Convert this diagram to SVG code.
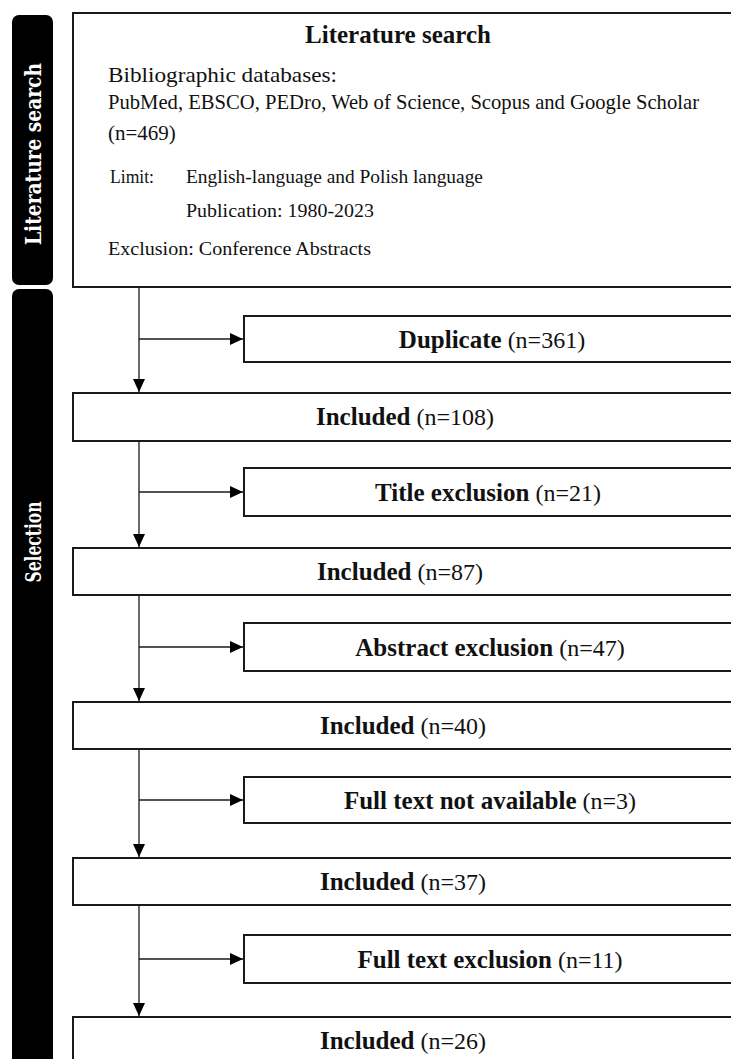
<svg xmlns="http://www.w3.org/2000/svg" width="731" height="1059" viewBox="0 0 731 1059">
  <style>
    .box { fill: #ffffff; stroke: #1a1a1a; stroke-width: 2; }
    .bar { fill: #000000; }
    .edge { fill: none; stroke: #1a1a1a; stroke-width: 1.3; }
    .bold { font-family: "Liberation Serif", "Times New Roman", serif; font-weight: bold; font-size: 25px; fill: #111111; }
    .num { font-family: "Liberation Serif", "Times New Roman", serif; font-weight: normal; font-size: 24px; fill: #111111; }
    .body { font-family: "Liberation Serif", "Times New Roman", serif; font-size: 21px; fill: #111111; }
    .small { font-family: "Liberation Serif", "Times New Roman", serif; font-size: 19.5px; fill: #111111; }
    .side { font-family: "DejaVu Serif", "Liberation Serif", serif; font-weight: bold; font-size: 22px; fill: #ffffff; }
  </style>
  <defs>
    <marker id="arrow" markerWidth="13" markerHeight="12" refX="13" refY="6" orient="auto" markerUnits="userSpaceOnUse">
      <path d="M0,0 L13,6 L0,12 Z" fill="#000000"/>
    </marker>
  </defs>

  <rect width="731" height="1059" fill="#ffffff"/>

  <!-- stage bars -->
  <g id="stage-literature">
    <rect class="bar" x="12" y="15" width="41" height="270" rx="7"/>
    <text class="side" transform="translate(41,154) rotate(-90)" text-anchor="middle" textLength="182" lengthAdjust="spacingAndGlyphs">Literature search</text>
  </g>
  <g id="stage-selection">
    <rect class="bar" x="12" y="289" width="41" height="790" rx="7"/>
    <text class="side" transform="translate(41,542) rotate(-90)" text-anchor="middle" textLength="81" lengthAdjust="spacingAndGlyphs">Selection</text>
  </g>

  <!-- connectors -->
  <g id="connectors">
    <line class="edge" x1="139" y1="287" x2="139" y2="392" marker-end="url(#arrow)"/>
    <line class="edge" x1="139" y1="339" x2="243" y2="339" marker-end="url(#arrow)"/>
    <line class="edge" x1="139" y1="441" x2="139" y2="547" marker-end="url(#arrow)"/>
    <line class="edge" x1="139" y1="492" x2="243" y2="492" marker-end="url(#arrow)"/>
    <line class="edge" x1="139" y1="595" x2="139" y2="701" marker-end="url(#arrow)"/>
    <line class="edge" x1="139" y1="647" x2="243" y2="647" marker-end="url(#arrow)"/>
    <line class="edge" x1="139" y1="749" x2="139" y2="857" marker-end="url(#arrow)"/>
    <line class="edge" x1="139" y1="800" x2="243" y2="800" marker-end="url(#arrow)"/>
    <line class="edge" x1="139" y1="905" x2="139" y2="1016" marker-end="url(#arrow)"/>
    <line class="edge" x1="139" y1="959" x2="243" y2="959" marker-end="url(#arrow)"/>
  </g>

  <!-- literature search box -->
  <g id="search">
    <rect class="box" x="73" y="13" width="680" height="274"/>
    <text class="bold" x="398" y="43" text-anchor="middle" font-size="26">Literature search</text>
    <text class="body" x="108" y="82" font-size="23" textLength="229" lengthAdjust="spacingAndGlyphs">Bibliographic databases:</text>
    <text class="body" x="108" y="109" textLength="591" lengthAdjust="spacingAndGlyphs">PubMed, EBSCO, PEDro, Web of Science, Scopus and Google Scholar</text>
    <text class="body" x="108" y="140">(n=469)</text>
    <text class="small" x="110" y="183" textLength="44" lengthAdjust="spacingAndGlyphs">Limit:</text>
    <text class="small" x="186" y="183" textLength="297" lengthAdjust="spacingAndGlyphs">English-language and Polish language</text>
    <text class="small" x="186" y="217" textLength="188" lengthAdjust="spacingAndGlyphs">Publication: 1980-2023</text>
    <text class="small" x="108" y="255" textLength="263" lengthAdjust="spacingAndGlyphs">Exclusion: Conference Abstracts</text>
  </g>

  <!-- exclusion boxes -->
  <g id="duplicate">
    <rect class="box" x="244" y="316" width="500" height="46"/>
    <text x="492" y="348" text-anchor="middle"><tspan class="bold">Duplicate</tspan><tspan class="num"> (n=361)</tspan></text>
  </g>
  <g id="title-exclusion">
    <rect class="box" x="244" y="468" width="500" height="48"/>
    <text x="488" y="501" text-anchor="middle"><tspan class="bold">Title exclusion</tspan><tspan class="num"> (n=21)</tspan></text>
  </g>
  <g id="abstract-exclusion">
    <rect class="box" x="244" y="623" width="500" height="48"/>
    <text x="490" y="656" text-anchor="middle"><tspan class="bold">Abstract exclusion</tspan><tspan class="num"> (n=47)</tspan></text>
  </g>
  <g id="full-text-not-available">
    <rect class="box" x="244" y="777" width="500" height="46"/>
    <text x="490" y="809" text-anchor="middle"><tspan class="bold">Full text not available</tspan><tspan class="num"> (n=3)</tspan></text>
  </g>
  <g id="full-text-exclusion">
    <rect class="box" x="244" y="935" width="500" height="48"/>
    <text x="490" y="968" text-anchor="middle"><tspan class="bold">Full text exclusion</tspan><tspan class="num"> (n=11)</tspan></text>
  </g>

  <!-- included boxes -->
  <g id="included-108">
    <rect class="box" x="73" y="393" width="680" height="48"/>
    <text x="405" y="425" text-anchor="middle"><tspan class="bold">Included</tspan><tspan class="num"> (n=108)</tspan></text>
  </g>
  <g id="included-87">
    <rect class="box" x="73" y="548" width="680" height="47"/>
    <text x="400" y="580" text-anchor="middle"><tspan class="bold">Included</tspan><tspan class="num"> (n=87)</tspan></text>
  </g>
  <g id="included-40">
    <rect class="box" x="73" y="702" width="680" height="47"/>
    <text x="403" y="734" text-anchor="middle"><tspan class="bold">Included</tspan><tspan class="num"> (n=40)</tspan></text>
  </g>
  <g id="included-37">
    <rect class="box" x="73" y="858" width="680" height="47"/>
    <text x="403" y="890" text-anchor="middle"><tspan class="bold">Included</tspan><tspan class="num"> (n=37)</tspan></text>
  </g>
  <g id="included-26">
    <rect class="box" x="73" y="1017" width="680" height="60"/>
    <text x="403" y="1049" text-anchor="middle"><tspan class="bold">Included</tspan><tspan class="num"> (n=26)</tspan></text>
  </g>
</svg>
